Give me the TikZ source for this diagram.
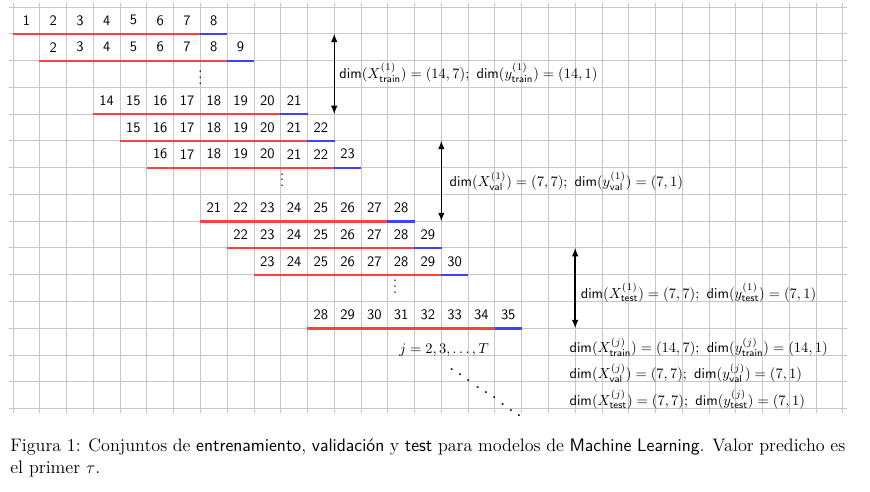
\documentclass[tikz,border=0pt]{standalone}

\begin{document}
\begin{tikzpicture}
[x=18.5pt, y=18.5pt, every node/.style={inner sep=0pt},
 gridline/.style={step=18.5pt, line width=0.6pt, color=black!22},
 cell/.style={rectangle, minimum width=18.5pt, minimum height=18.5pt, font=\sffamily},
 trainline/.style={line width=1.5pt, color=red!75},
 testline/.style={line width=1.5pt, color=blue!75},
 span/.style={line width=1pt, <->, >=latex, color=black},
 dimlabel/.style={anchor=base west},
 moredots/.style={anchor=base, text height=9pt},
 diagdots/.style={xscale=1.45, yscale=1.2},
 captiontext/.style={anchor=base west, text width=577pt, align=justify, font=\fontsize{12.5}{14.9}\selectfont}]
\useasboundingbox (-0.486,0.2615) rectangle (32.014,-18.117);
\draw [gridline] (-0.15,0.15) grid (31.15,-15.15);
% first window
\node (a1) [cell] at (0.5,-0.5) {1};
\node (a2) [cell] at (1.5,-0.5) {2};
\node (a3) [cell] at (2.5,-0.5) {3};
\node (a4) [cell] at (3.5,-0.5) {4};
\node (a5) [cell] at (4.5,-0.5) {5};
\node (a6) [cell] at (5.5,-0.5) {6};
\node (a7) [cell] at (6.5,-0.5) {7};
\node (a8) [cell] at (7.5,-0.5) {8};
\node (b2) [cell] at (1.5,-1.5) {2};
\node (b3) [cell] at (2.5,-1.5) {3};
\node (b4) [cell] at (3.5,-1.5) {4};
\node (b5) [cell] at (4.5,-1.5) {5};
\node (b6) [cell] at (5.5,-1.5) {6};
\node (b7) [cell] at (6.5,-1.5) {7};
\node (b8) [cell] at (7.5,-1.5) {8};
\node (b9) [cell] at (8.5,-1.5) {9};
\node (dotsa) [moredots] at (7.0,-2.89) {$\vdots$};
\node (c14) [cell] at (3.5,-3.5) {14};
\node (c15) [cell] at (4.5,-3.5) {15};
\node (c16) [cell] at (5.5,-3.5) {16};
\node (c17) [cell] at (6.5,-3.5) {17};
\node (c18) [cell] at (7.5,-3.5) {18};
\node (c19) [cell] at (8.5,-3.5) {19};
\node (c20) [cell] at (9.5,-3.5) {20};
\node (c21) [cell] at (10.5,-3.5) {21};
\node (d15) [cell] at (4.5,-4.5) {15};
\node (d16) [cell] at (5.5,-4.5) {16};
\node (d17) [cell] at (6.5,-4.5) {17};
\node (d18) [cell] at (7.5,-4.5) {18};
\node (d19) [cell] at (8.5,-4.5) {19};
\node (d20) [cell] at (9.5,-4.5) {20};
\node (d21) [cell] at (10.5,-4.5) {21};
\node (d22) [cell] at (11.5,-4.5) {22};
\node (e16) [cell] at (5.5,-5.5) {16};
\node (e17) [cell] at (6.5,-5.5) {17};
\node (e18) [cell] at (7.5,-5.5) {18};
\node (e19) [cell] at (8.5,-5.5) {19};
\node (e20) [cell] at (9.5,-5.5) {20};
\node (e21) [cell] at (10.5,-5.5) {21};
\node (e22) [cell] at (11.5,-5.5) {22};
\node (e23) [cell] at (12.5,-5.5) {23};
\node (dotsb) [moredots] at (10.05,-6.71) {$\vdots$};
\node (f21) [cell] at (7.5,-7.5) {21};
\node (f22) [cell] at (8.5,-7.5) {22};
\node (f23) [cell] at (9.5,-7.5) {23};
\node (f24) [cell] at (10.5,-7.5) {24};
\node (f25) [cell] at (11.5,-7.5) {25};
\node (f26) [cell] at (12.5,-7.5) {26};
\node (f27) [cell] at (13.5,-7.5) {27};
\node (f28) [cell] at (14.5,-7.5) {28};
\node (g22) [cell] at (8.5,-8.5) {22};
\node (g23) [cell] at (9.5,-8.5) {23};
\node (g24) [cell] at (10.5,-8.5) {24};
\node (g25) [cell] at (11.5,-8.5) {25};
\node (g26) [cell] at (12.5,-8.5) {26};
\node (g27) [cell] at (13.5,-8.5) {27};
\node (g28) [cell] at (14.5,-8.5) {28};
\node (g29) [cell] at (15.5,-8.5) {29};
\node (h23) [cell] at (9.5,-9.5) {23};
\node (h24) [cell] at (10.5,-9.5) {24};
\node (h25) [cell] at (11.5,-9.5) {25};
\node (h26) [cell] at (12.5,-9.5) {26};
\node (h27) [cell] at (13.5,-9.5) {27};
\node (h28) [cell] at (14.5,-9.5) {28};
\node (h29) [cell] at (15.5,-9.5) {29};
\node (h30) [cell] at (16.5,-9.5) {30};
\node (dotsc) [moredots] at (14.27,-10.70) {$\vdots$};
\node (k28) [cell] at (11.5,-11.5) {28};
\node (k29) [cell] at (12.5,-11.5) {29};
\node (k30) [cell] at (13.5,-11.5) {30};
\node (k31) [cell] at (14.5,-11.5) {31};
\node (k32) [cell] at (15.5,-11.5) {32};
\node (k33) [cell] at (16.5,-11.5) {33};
\node (k34) [cell] at (17.5,-11.5) {34};
\node (k35) [cell] at (18.5,-11.5) {35};
% underlines: red inputs, blue target
\draw [trainline] (a1.south west) -- (a7.south east);
\draw [testline] (a8.south west) -- (a8.south east);
\draw [trainline] (b2.south west) -- (b8.south east);
\draw [testline] (b9.south west) -- (b9.south east);
\draw [trainline] (c14.south west) -- (c20.south east);
\draw [testline] (c21.south west) -- (c21.south east);
\draw [trainline] (d15.south west) -- (d21.south east);
\draw [testline] (d22.south west) -- (d22.south east);
\draw [trainline] (e16.south west) -- (e22.south east);
\draw [testline] (e23.south west) -- (e23.south east);
\draw [trainline] (f21.south west) -- (f27.south east);
\draw [testline] (f28.south west) -- (f28.south east);
\draw [trainline] (g22.south west) -- (g28.south east);
\draw [testline] (g29.south west) -- (g29.south east);
\draw [trainline] (h23.south west) -- (h29.south east);
\draw [testline] (h30.south west) -- (h30.south east);
\draw [trainline] (k28.south west) -- (k34.south east);
\draw [testline] (k35.south west) -- (k35.south east);
% spans of the three sets
\coordinate (traintop) at (12,-1);
\coordinate (trainbot) at (12,-4);
\coordinate (valtop) at (16,-5);
\coordinate (valbot) at (16,-8);
\coordinate (testtop) at (21,-9);
\coordinate (testbot) at (21,-12);
\draw [span] (traintop) -- (trainbot);
\draw [span] (valtop) -- (valbot);
\draw [span] (testtop) -- (testbot);
\node (trainlbl) [dimlabel] at (12.18,-2.66) {$\mathsf{dim}(X^{(1)}_{\mathsf{train}}) = (14,7);\ \mathsf{dim}(y^{(1)}_{\mathsf{train}}) = (14,1)$};
\node (vallbl) [dimlabel] at (16.3,-6.71) {$\mathsf{dim}(X^{(1)}_{\mathsf{val}}) = (7,7);\ \mathsf{dim}(y^{(1)}_{\mathsf{val}}) = (7,1)$};
\node (testlbl) [dimlabel] at (21.2,-10.88) {$\mathsf{dim}(X^{(1)}_{\mathsf{test}}) = (7,7);\ \mathsf{dim}(y^{(1)}_{\mathsf{test}}) = (7,1)$};
% later windows
\node (jrange) [dimlabel] at (14.42,-12.94) {$j = 2, 3, \ldots, T$};
\node (ddotsa) [diagdots] at (16.70,-13.55) {$\ddots$};
\node (ddotsb) [diagdots] at (17.67,-14.21) {$\ddots$};
\node (ddotsc) [diagdots] at (18.60,-14.87) {$\ddots$};
\node (jtrain) [dimlabel] at (20.78,-12.91) {$\mathsf{dim}(X^{(j)}_{\mathsf{train}}) = (14,7);\ \mathsf{dim}(y^{(j)}_{\mathsf{train}}) = (14,1)$};
\node (jval) [dimlabel] at (20.78,-13.88) {$\mathsf{dim}(X^{(j)}_{\mathsf{val}}) = (7,7);\ \mathsf{dim}(y^{(j)}_{\mathsf{val}}) = (7,1)$};
\node (jtest) [dimlabel] at (20.78,-14.87) {$\mathsf{dim}(X^{(j)}_{\mathsf{test}}) = (7,7);\ \mathsf{dim}(y^{(j)}_{\mathsf{test}}) = (7,1)$};
\node (caption) [captiontext] at (-0.11,-16.61) {Figura 1: Conjuntos de \textsf{entrenamiento}, \textsf{validación} y \textsf{test} para modelos de \textsf{Machine Learning}. Valor predicho es el primer $\tau$.};
\end{tikzpicture}
\end{document}
